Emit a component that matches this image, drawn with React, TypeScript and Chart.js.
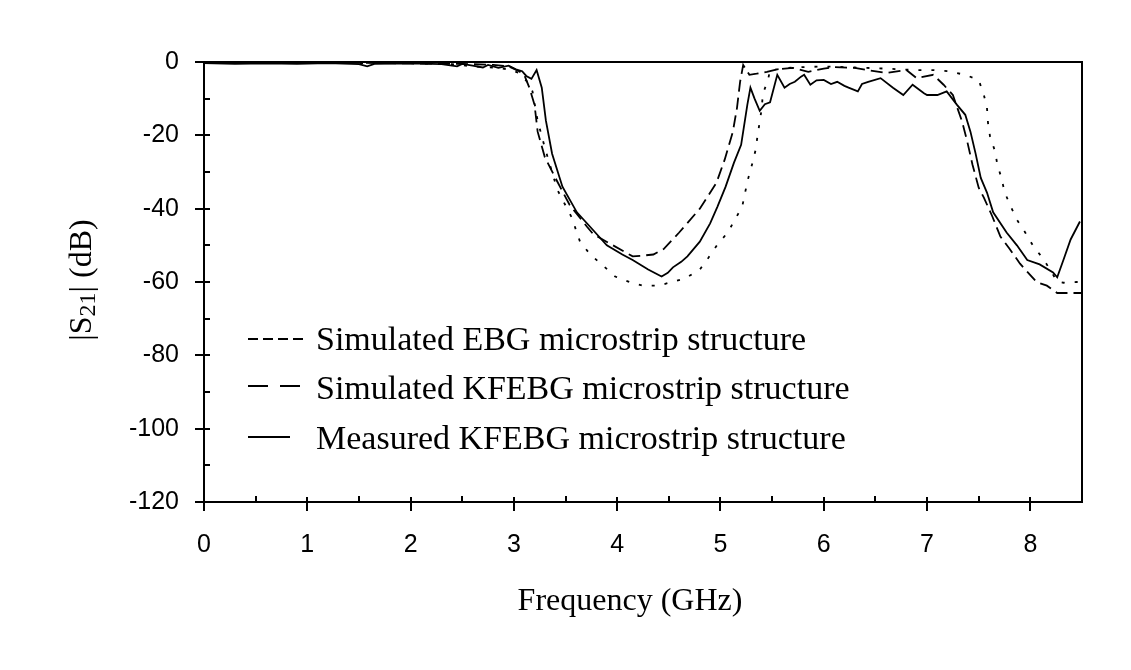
import React, { useEffect, useRef } from "react";
import { Chart, registerables } from "chart.js";

Chart.register(...registerables);

// ---- Axis ticks ----
const xTicks = [0, 1, 2, 3, 4, 5, 6, 7, 8];
const xMinorTicks = [0.5, 1.5, 2.5, 3.5, 4.5, 5.5, 6.5, 7.5];
const yTicks = [0, -20, -40, -60, -80, -100, -120];
const yMinorTicks = [-10, -30, -50, -70, -90, -110];

// ---- Series labels ----
const seriesLabels = [
  "Simulated EBG microstrip structure",
  "Simulated KFEBG microstrip structure",
  "Measured KFEBG microstrip structure",
];

// ---- Simulated EBG microstrip structure (dotted) ----
const ebgFreq = [
  0, 0.5, 1.0, 1.5, 2.0, 2.4, 2.6, 2.8, 2.95, 3.05, 3.13, 3.18, 3.23, 3.3, 3.42,
  3.56, 3.64, 3.74, 3.85, 3.98, 4.12, 4.25, 4.4, 4.53, 4.66, 4.8, 4.88, 4.97,
  5.07, 5.14, 5.21, 5.24, 5.27, 5.31, 5.34, 5.36, 5.38, 5.4, 5.41, 5.46, 5.48,
  5.55, 5.7, 6.0, 6.3, 6.6, 6.9, 7.05, 7.2, 7.37, 7.5, 7.55, 7.58, 7.59, 7.61,
  7.66, 7.68, 7.72, 7.75, 7.8, 7.87, 7.95, 8.03, 8.12, 8.19, 8.26, 8.32, 8.45,
  8.5,
];
const ebgDb = [
  -0.2, -0.2, -0.2, -0.3, -0.3, -0.6, -1.2, -1.5, -2, -3, -5.4, -8, -16, -23.4,
  -34.8, -42.4, -49, -52.5, -55.2, -58.5, -60, -61, -61, -60, -59, -56.6, -53.5,
  -49.8, -46.5, -43, -39.5, -35.4, -31.6, -27.5, -24, -19.9, -16.3, -12.5, -8.7,
  -4.9, -2.2, -2, -1.5, -1.2, -1.5, -1.8, -2.2, -2.2, -2.5, -3.5, -4.9, -9,
  -12.5, -16.6, -20.4, -24.5, -28, -31.6, -35.4, -38.8, -43, -46.5, -50.3,
  -53.5, -56.6, -59.9, -60.2, -60, -60,
];

// ---- Simulated KFEBG microstrip structure (long dash) ----
const kfFreq = [
  0, 0.5, 1.0, 1.5, 2.0, 2.5, 2.8, 2.95, 3.05, 3.1, 3.15, 3.2, 3.23, 3.3, 3.42,
  3.54, 3.71, 3.77, 3.96, 4.15, 4.25, 4.35, 4.45, 4.6, 4.8, 4.96, 5.04, 5.12,
  5.16, 5.19, 5.22, 5.28, 5.35, 5.45, 5.55, 5.7, 5.85, 6.0, 6.1, 6.3, 6.6, 6.8,
  6.9, 7.06, 7.16, 7.25, 7.34, 7.39, 7.44, 7.5, 7.55, 7.63, 7.71, 7.8, 7.9,
  8.06, 8.16, 8.26, 8.5,
];
const kfDb = [
  -0.2, -0.2, -0.3, -0.2, -0.4, -0.5, -0.8, -1.2, -2.5, -3.5, -7, -11.7, -19,
  -26, -32.6, -39, -45, -47, -50, -53, -52.8, -52.5, -51, -46.5, -40, -33,
  -26.7, -19, -12.5, -5.4, -0.8, -3.5, -3.2, -2.7, -2, -1.6, -2.7, -1.8, -1.4,
  -1.6, -3, -2.2, -4.4, -3.5, -6.2, -9, -16.3, -21.8, -28, -34.3, -37, -42,
  -47.6, -51, -55, -60, -61, -63, -63,
];

// ---- Measured KFEBG microstrip structure (solid) ----
const measFreq = [
  0, 0.3, 0.6, 0.9, 1.2, 1.5, 1.58, 1.65, 2.0, 2.3, 2.45, 2.5, 2.6, 2.7, 2.75,
  2.85, 2.95, 3.02, 3.08, 3.12, 3.17, 3.22, 3.27, 3.31, 3.37, 3.47, 3.61, 3.74,
  3.9, 4.05, 4.15, 4.3, 4.43, 4.49, 4.54, 4.62, 4.68, 4.8, 4.9, 4.97, 5.05,
  5.13, 5.2, 5.26, 5.29, 5.33, 5.38, 5.43, 5.48, 5.55, 5.62, 5.67, 5.72, 5.78,
  5.81, 5.87, 5.93, 6.0, 6.07, 6.13, 6.2, 6.24, 6.33, 6.37, 6.43, 6.55, 6.67,
  6.77, 6.86, 6.97, 7.0, 7.1, 7.19, 7.29, 7.37, 7.42, 7.47, 7.52, 7.58, 7.64,
  7.77, 7.87, 7.97, 8.09, 8.22, 8.26, 8.32, 8.39, 8.48,
];
const measDb = [
  -0.3, -0.5, -0.4, -0.5, -0.3, -0.6, -1.2, -0.5, -0.4, -0.6, -1.2, -0.5, -1.0,
  -1.5, -0.8, -1.6, -1.0, -2.0, -2.5, -3.8, -4.6, -2.2, -7, -16, -25, -34, -41,
  -45, -50, -52.5, -54, -56.6, -58.5, -57.5, -56, -54.5, -53, -49, -44, -39.5,
  -34, -27.5, -22.6, -11.7, -7, -10, -13.3, -11.5, -11, -3.5, -7, -6, -5.4, -4,
  -3.5, -6.2, -5, -4.9, -6, -5.4, -6.5, -7, -8, -6, -5.4, -4.4, -7, -9, -6.2,
  -8.5, -9, -9, -8, -11.7, -14.4, -19, -25, -31.6, -35.6, -41, -46.5, -50, -54,
  -55.2, -57.4, -58.7, -54, -48.4, -43.5,
];

const serif = "'Liberation Serif', 'Times New Roman', serif";
const sans = "'Liberation Sans', Arial, sans-serif";

const decorPlugin = {
  id: "decor",
  afterDraw(chart: any) {
    const ctx = chart.ctx as CanvasRenderingContext2D;
    const { left, right, top, bottom } = chart.chartArea;
    const xs = chart.scales.x;
    const ys = chart.scales.y;
    ctx.save();
    ctx.strokeStyle = "#000";
    ctx.lineWidth = 2;
    ctx.setLineDash([]);
    // frame
    ctx.strokeRect(left, top, right - left, bottom - top);
    // inside ticks
    ctx.beginPath();
    for (const v of yTicks) {
      const y = Math.round(ys.getPixelForValue(v));
      ctx.moveTo(left, y);
      ctx.lineTo(left + 6, y);
    }
    for (const v of yMinorTicks) {
      const y = Math.round(ys.getPixelForValue(v));
      ctx.moveTo(left, y);
      ctx.lineTo(left + 6, y);
    }
    for (const v of xTicks) {
      const x = Math.round(xs.getPixelForValue(v));
      ctx.moveTo(x, bottom);
      ctx.lineTo(x, bottom - 5);
    }
    for (const v of xMinorTicks) {
      const x = Math.round(xs.getPixelForValue(v));
      ctx.moveTo(x, bottom);
      ctx.lineTo(x, bottom - 6);
    }
    ctx.stroke();

    // legend
    const rows = [
      { y: 339, base: 350, dash: [10, 5], len: 55 },
      { y: 386, base: 399, dash: [20, 12], len: 52 },
      { y: 437, base: 449, dash: [], len: 42 },
    ];
    ctx.fillStyle = "#000";
    ctx.textAlign = "left";
    ctx.textBaseline = "alphabetic";
    ctx.font = `34px ${serif}`;
    rows.forEach((r, i) => {
      ctx.beginPath();
      ctx.lineWidth = 1.8;
      ctx.setLineDash(r.dash);
      ctx.moveTo(248, r.y);
      ctx.lineTo(248 + r.len, r.y);
      ctx.stroke();
      ctx.setLineDash([]);
      ctx.fillText(seriesLabels[i], 316, r.base);
    });

    // x title
    ctx.font = `32px ${serif}`;
    ctx.textAlign = "center";
    ctx.fillText("Frequency (GHz)", 630, 610);

    // y title with subscript
    ctx.translate(91, 280);
    ctx.rotate(-Math.PI / 2);
    const parts = [
      { t: "|S", f: `32px ${serif}`, dy: 0 },
      { t: "21", f: `24px ${serif}`, dy: 4 },
      { t: "| (dB)", f: `32px ${serif}`, dy: 0 },
    ];
    let total = 0;
    for (const p of parts) {
      ctx.font = p.f;
      total += ctx.measureText(p.t).width;
    }
    let cx = -total / 2;
    ctx.textAlign = "left";
    for (const p of parts) {
      ctx.font = p.f;
      ctx.fillText(p.t, cx, p.dy);
      cx += ctx.measureText(p.t).width;
    }
    ctx.restore();
  },
};

export default function App() {
  const ref = useRef<HTMLCanvasElement | null>(null);
  useEffect(() => {
    if (!ref.current) return;
    const mk = (xs: number[], ys: number[]) => xs.map((x, i) => ({ x, y: ys[i] }));
    const common = {
      borderColor: "#000",
      borderWidth: 1.8,
      pointRadius: 0,
      fill: false,
      tension: 0,
    };
    const chart = new Chart(ref.current, {
      type: "line",
      data: {
        datasets: [
          { ...common, label: seriesLabels[0], data: mk(ebgFreq, ebgDb), borderDash: [3, 10] },
          { ...common, label: seriesLabels[1], data: mk(kfFreq, kfDb), borderDash: [12, 6] },
          { ...common, label: seriesLabels[2], data: mk(measFreq, measDb) },
        ],
      },
      options: {
        responsive: false,
        animation: false,
        layout: { padding: { left: 0, top: 62, right: 49, bottom: 0 } },
        plugins: {
          legend: { display: false },
          tooltip: { enabled: false },
          title: { display: false },
        },
        scales: {
          x: {
            type: "linear",
            min: 0,
            max: 8.5,
            afterBuildTicks: (s: any) => {
              s.ticks = xTicks.map((v) => ({ value: v }));
            },
            afterFit: (s: any) => {
              s.height = 168;
            },
            ticks: {
              color: "#000",
              font: { family: sans, size: 25 },
              padding: 19,
              maxRotation: 0,
              autoSkip: false,
              callback: (v: any) => String(v),
            },
            grid: {
              display: true,
              drawOnChartArea: false,
              drawTicks: true,
              tickLength: 9,
              color: "#000",
              lineWidth: 2,
            },
            border: { display: false },
          },
          y: {
            type: "linear",
            min: -120,
            max: 0,
            afterBuildTicks: (s: any) => {
              s.ticks = yTicks.map((v) => ({ value: v }));
            },
            afterFit: (s: any) => {
              s.width = 204;
            },
            ticks: {
              color: "#000",
              font: { family: sans, size: 25 },
              padding: 16,
              autoSkip: false,
              callback: (v: any) => String(v),
            },
            grid: {
              display: true,
              drawOnChartArea: false,
              drawTicks: true,
              tickLength: 9,
              color: "#000",
              lineWidth: 2,
            },
            border: { display: false },
          },
        },
      },
      plugins: [decorPlugin],
    });
    return () => chart.destroy();
  }, []);
  return (
    <div style={{ position: "fixed", left: 0, top: 0, width: 1131, height: 670, background: "#fff" }}>
      <canvas ref={ref} width={1131} height={670} style={{ width: 1131, height: 670, display: "block" }} />
    </div>
  );
}
